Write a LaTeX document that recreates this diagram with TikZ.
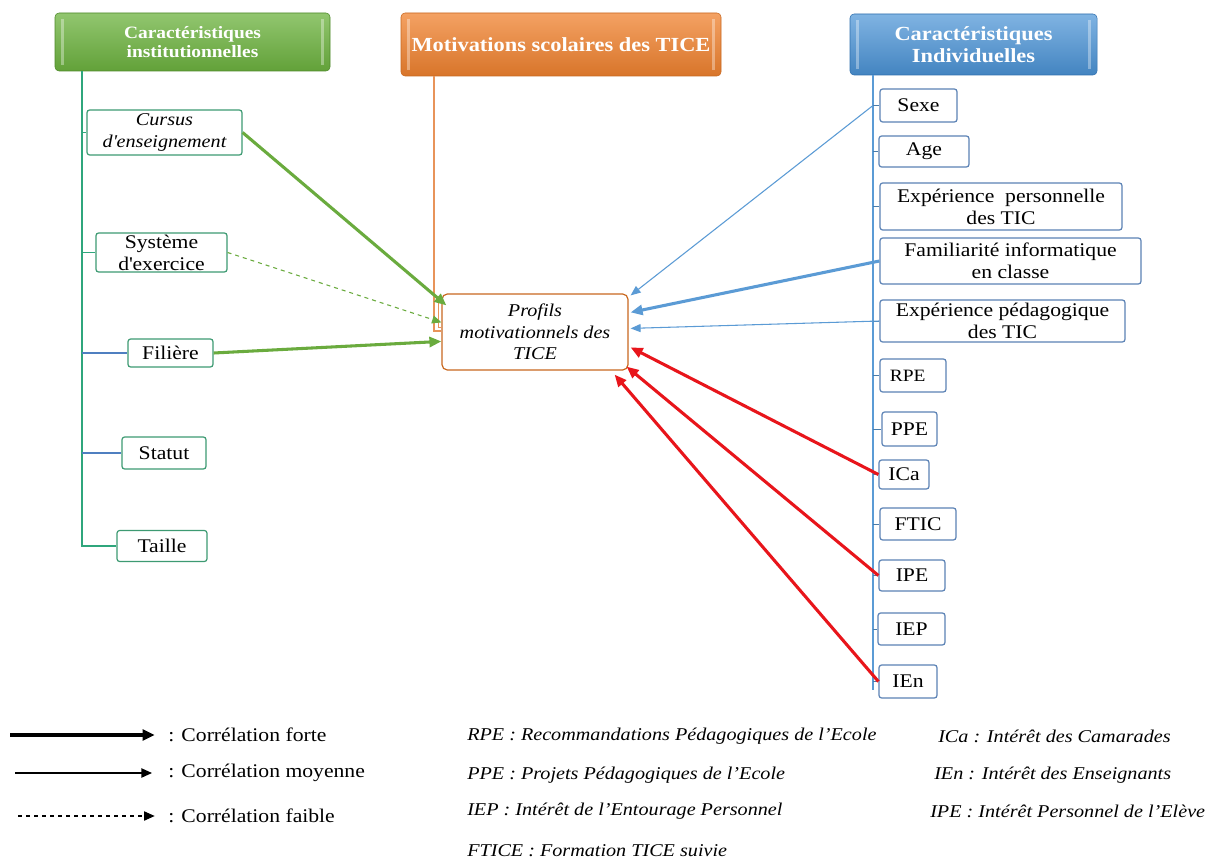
\documentclass[tikz,border=0pt]{standalone}
\usepackage{fontspec}
\setmainfont[FakeStretch=1.12]{Liberation Serif}
\usetikzlibrary{arrows.meta,calc}
\definecolor{hgreen}{HTML}{6DB33F}
\definecolor{hgreenD}{HTML}{4E8A2A}
\definecolor{horange}{HTML}{F0822F}
\definecolor{horangeD}{HTML}{C9681F}
\definecolor{hblue}{HTML}{4A93D6}
\definecolor{hblueD}{HTML}{2F6FAE}
\definecolor{spineG}{HTML}{2FA67C}
\definecolor{boxG}{HTML}{3D9A72}
\definecolor{boxB}{HTML}{5B82B5}
\definecolor{arG}{HTML}{6AAB3E}
\definecolor{arB}{HTML}{5B9BD5}
\definecolor{arR}{HTML}{E8151B}
\definecolor{tickB}{HTML}{4F7FC0}
\definecolor{lineO}{HTML}{E8945A}
\tikzset{
  hdr/.style={rounded corners=3pt, inner sep=0pt, align=center, text=white,
    font=\fontsize{13}{14.5}\selectfont\bfseries},
  bevel/.style={white, opacity=0.35, line width=2.4pt},
  lbox/.style={draw=boxG, line width=0.9pt, rounded corners=2pt, fill=white,
    inner sep=0pt, align=center, font=\fontsize{14.5}{16.5}\selectfont},
  rbox/.style={lbox, draw=boxB},
  ctrbox/.style={draw=horangeD, line width=0.9pt, rounded corners=4pt, fill=white,
    inner sep=0pt, align=center, font=\fontsize{13.5}{16}\selectfont\itshape},
  strongG/.style={arG, line width=2.3pt, -{Triangle[length=9pt,width=7.5pt]}},
  weakG/.style={arG, line width=0.8pt, dashed, -{Triangle[length=7pt,width=6pt]}},
  strongB/.style={arB, line width=2.3pt, -{Triangle[length=9pt,width=7.5pt]}},
  midB/.style={arB, line width=0.8pt, -{Triangle[length=7.5pt,width=6pt]}},
  strongR/.style={arR, line width=2.3pt, -{Triangle[length=9pt,width=7.5pt]}},
  legtxt/.style={anchor=west, inner sep=0pt, font=\fontsize{14.5}{16}\selectfont},
  abbr/.style={anchor=west, inner sep=0pt, font=\fontsize{13.5}{16}\selectfont\itshape},
}
\begin{document}
\begin{tikzpicture}[x=0.75pt,y=-0.75pt]
\useasboundingbox (0,0) rectangle (1216,859);
\fill[white] (0,0) rectangle (1216,859);

% headers
\node[hdr, top color=hgreen!75!white, bottom color=hgreen!90!black, draw=hgreenD,
  minimum width=206.25pt, minimum height=43.5pt] (hg) at (192.5,42) {Caractéristiques\\institutionnelles};
\node[hdr, top color=horange!75!white, bottom color=horange!90!black, draw=horangeD,
  minimum width=240pt, minimum height=47.25pt, font=\fontsize{15}{16.5}\selectfont\bfseries] (ho) at (561,44.5) {Motivations scolaires des TICE};
\node[hdr, top color=hblue!70!white, bottom color=hblue!90!black, draw=hblueD,
  minimum width=185.25pt, minimum height=45.75pt, font=\fontsize{15}{16.5}\selectfont\bfseries] (hb) at (973.5,44.5) {Caractéristiques\\Individuelles};
\foreach \h in {hg,ho,hb}{
  \draw[bevel] ([xshift=6pt,yshift=-5pt]\h.north west) -- ([xshift=6pt,yshift=5pt]\h.south west);
  \draw[bevel] ([xshift=-6pt,yshift=-5pt]\h.north east) -- ([xshift=-6pt,yshift=5pt]\h.south east);
}

% spines
\coordinate (spL) at (82,71);
\coordinate (spR) at (873,75);
\coordinate (spRb) at (873,690);
\coordinate (spO) at (434,76);
\coordinate (spOb) at (434,331);

% left boxes
\node[lbox, minimum width=116.25pt, minimum height=33.75pt, font=\fontsize{13.5}{16}\selectfont\itshape] (cur) at (164.5,132.5) {Cursus\\d\textquotesingle enseignement};
\node[lbox, minimum width=98.25pt, minimum height=29.25pt] (sys) at (161.5,252.5) {Système\\d\textquotesingle exercice};
\node[lbox, minimum width=63.75pt, minimum height=21pt] (fil) at (170.5,353) {Filière};
\node[lbox, minimum width=63pt, minimum height=24pt] (sta) at (164,453) {Statut};
\node[lbox, minimum width=67.5pt, minimum height=23.25pt] (tai) at (162,546) {Taille};

\draw[spineG, line width=1.3pt] (spL) |- (tai.west);
\draw[spineG, line width=0.9pt] (cur.west -| spL) -- (cur.west);
\draw[spineG, line width=0.9pt] (sys.west -| spL) -- (sys.west);
\draw[tickB, line width=0.9pt] (fil.west -| spL) -- (fil.west);
\draw[tickB, line width=0.9pt] (sta.west -| spL) -- (sta.west);

% centre box
\node[ctrbox, minimum width=139.5pt, minimum height=57pt] (ctr) at (535,332) {Profils\\motivationnels des\\TICE};
\draw[lineO, line width=0.9pt] (spO) -- (spOb) -- (spOb -| ctr.west);
\draw[lineO, line width=0.7pt] (438,302) -- (438,327) -- (ctr.west |- 0,327);

% right boxes
\node[rbox, minimum width=57.75pt, minimum height=24.75pt] (sex) at (918.5,105.5) {Sexe};
\node[rbox, minimum width=67.5pt, minimum height=23.25pt] (age) at (924,151.5) {Age};
\node[rbox, minimum width=181.5pt, minimum height=35.25pt] (exp) at (1001,206.5) {Expérience \ personnelle\\des TIC};
\node[rbox, minimum width=195.75pt, minimum height=34.5pt] (fam) at (1010.5,261) {Familiarité informatique\\en classe};
\node[rbox, minimum width=183.75pt, minimum height=31.5pt] (epd) at (1002.5,321) {Expérience pédagogique\\des TIC};
\node[rbox, minimum width=49.5pt, minimum height=24.75pt, font=\fontsize{13}{15}\selectfont] (rpe) at (913,375.5) {RPE\hspace{8pt}};
\node[rbox, minimum width=41.25pt, minimum height=25.5pt] (ppe) at (909.5,429) {PPE};
\node[rbox, minimum width=37.5pt, minimum height=21.75pt] (ica) at (904,474.5) {ICa};
\node[rbox, minimum width=57pt, minimum height=24pt] (fti) at (918,524) {FTIC};
\node[rbox, minimum width=49.5pt, minimum height=23.25pt] (ipe) at (912,575.5) {IPE};
\node[rbox, minimum width=50.25pt, minimum height=24pt] (iep) at (911.5,629) {IEP};
\node[rbox, minimum width=43.5pt, minimum height=24.75pt] (ien) at (908,681.5) {IEn};

\draw[arB, line width=1.6pt] (spR) -- (spRb);
\foreach \b in {sex,age,exp,fam,epd,rpe,ppe,ica,fti,ipe,iep,ien}{
  \draw[arB!80!black, line width=0.7pt] (\b.west -| spR) -- (\b.west);
}

% arrows into centre
\draw[strongG] (cur.east) -- ($(ctr.north west)+(5,12)$);
\draw[weakG] (sys.east) -- ($(ctr.north west)+(0,29)$);
\draw[strongG] (fil.east) -- ($(ctr.north west)+(0,48)$);
\draw[midB] (sex.west -| spR) -- ($(ctr.north east)+(2,2)$);
\draw[strongB] (fam.west) -- ($(ctr.north east)+(2,19)$);
\draw[midB] (epd.west) -- ($(ctr.north east)+(2,35)$);
\draw[strongR] (ica.west) -- ($(ctr.north east)+(2,54)$);
\draw[strongR] (ipe.west) -- ($(ctr.south east)+(-2,-4)$);
\draw[strongR] (ien.west) -- ($(ctr.south east)+(-14,4)$);

% legend
\node[legtxt] (lg1) at (168,735) {: Corrélation forte};
\node[legtxt] (lg2) at (168,773) {: Corrélation moyenne};
\node[legtxt] (lg3) at (168,816) {: Corrélation faible};
\coordinate (lg1a) at (10,735);
\coordinate (lg2a) at (15,773);
\coordinate (lg3a) at (18,816);
\draw[line width=2.6pt, -{Triangle[length=9pt,width=8pt]}] (lg1a) -- ([xshift=-10pt]lg1.west);
\draw[line width=1pt, -{Triangle[length=8pt,width=7pt]}] (lg2a) -- ([xshift=-12pt]lg2.west);
\draw[line width=0.8pt, dashed, -{Triangle[length=8pt,width=7pt]}] (lg3a) -- ([xshift=-10pt]lg3.west);

\node[abbr] (a1) at (467,736) {RPE : Recommandations Pédagogiques de l’Ecole};
\node[abbr] (a2) at (467,775) {PPE : Projets Pédagogiques de l’Ecole};
\node[abbr] (a3) at (467,811) {IEP : Intérêt de l’Entourage Personnel};
\node[abbr] (a4) at (467,851) {FTICE : Formation TICE suivie};
\node[abbr] (a5) at (938,736) {ICa : Intérêt des Camarades};
\node[abbr] (a6) at (934,775) {IEn : Intérêt des Enseignants};
\node[abbr] (a7) at (930,811) {IPE : Intérêt Personnel de l’Elève};
\end{tikzpicture}
\end{document}
